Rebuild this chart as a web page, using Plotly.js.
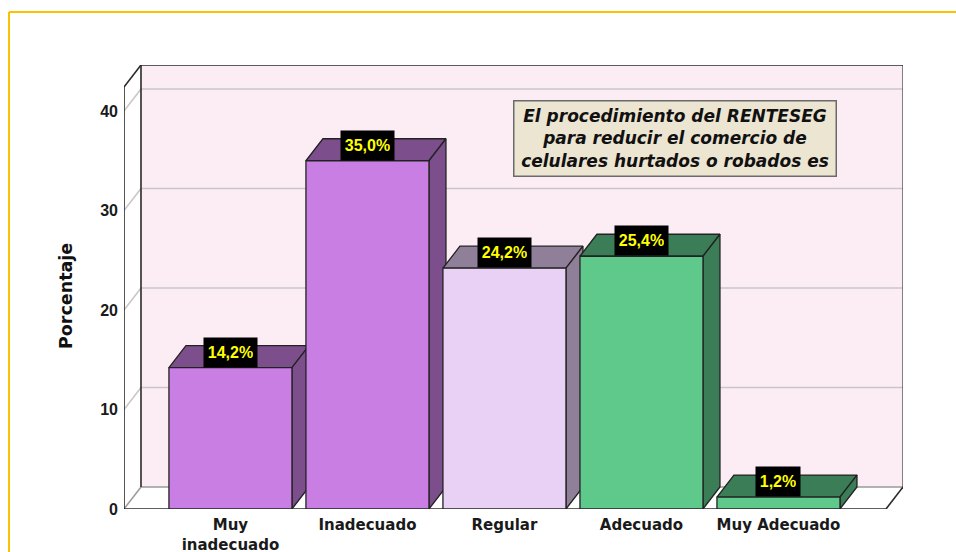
<!DOCTYPE html>
<html><head><meta charset="utf-8">
<script src="https://cdn.plot.ly/plotly-3.0.1.min.js"></script>
<style>html,body{margin:0;padding:0;background:#fff}#chart{width:956px;height:552px}</style>
</head><body><div id="chart"></div>
<script>
// ---- data ----
const categories = ['Muy<br>inadecuado', 'Inadecuado', 'Regular', 'Adecuado', 'Muy Adecuado'];
const percentages = [14.2, 35.0, 24.2, 25.4, 1.2];
const yTicks = [0, 10, 20, 30, 40];
const frontColors = ['#c97ee3', '#c97ee3', '#e9d1f6', '#5ec98b', '#5ec98b'];
const shadeColors = ['#7c4e8c', '#7c4e8c', '#8f7f98', '#3a7d56', '#3a7d56'];
const boxTitle = 'El procedimiento del RENTESEG<br>para reducir el comercio de<br>celulares hurtados o robados es';
const yTitle = 'Porcentaje';

// ---- geometry ----
const W = 956, H = 552;
const M = {l: 124, r: 53, t: 65, b: 43};
const X0 = -0.777, XR = 4.785;      // front floor extent (category units)
const DX = 0.124, DY = 2.21;        // 3D depth offset (axis units)
const YTOPF = 42.41;                // top of front frame
const BW = 0.898;                   // bar width
const xRange = [X0, XR + DX];
const yRange = [0, YTOPF + DY];
const pw = W - M.l - M.r, ph = H - M.t - M.b;
const px2x = p => (p - M.l) / pw;
const py2y = p => (H - M.b - p) / ph;

function poly(xs, ys, fill, lc, lw) {
  return {type: 'scatter', mode: 'lines', x: xs, y: ys, fill: 'toself', fillcolor: fill,
    line: {color: lc || fill, width: lw === undefined ? 0 : lw}, hoverinfo: 'skip', showlegend: false};
}
function segs(list, color, width) {
  const xs = [], ys = [];
  list.forEach(s => { xs.push(s[0], s[2], null); ys.push(s[1], s[3], null); });
  return {type: 'scatter', mode: 'lines', x: xs, y: ys, connectgaps: false,
    line: {color: color, width: width}, hoverinfo: 'skip', showlegend: false};
}

const traces = [];
const yTB = YTOPF + DY;
// walls
traces.push(poly([X0, X0 + DX, X0 + DX, X0, X0], [0, DY, yTB, YTOPF, 0], '#ffffff'));
traces.push(poly([X0, XR, XR + DX, X0 + DX, X0], [0, 0, DY, DY, 0], '#ffffff'));
traces.push(poly([X0 + DX, XR + DX, XR + DX, X0 + DX, X0 + DX], [DY, DY, yTB, yTB, DY], '#fcedf5'));
// gridlines
const grid = [];
yTicks.filter(t => t > 0).forEach(t => {
  grid.push([X0, t, X0 + DX, t + DY]);
  grid.push([X0 + DX, t + DY, XR + DX, t + DY]);
});
traces.push(segs(grid, '#c9c6c8', 1.6));
// frame lines
traces.push(segs([[X0 + DX, DY, XR + DX, DY], [X0, 0, X0 + DX, DY]], '#9a9a9a', 1.5));
traces.push(segs([[XR + DX, DY, XR + DX, yTB]], '#5a5a5a', 1.5));
traces.push(segs([
  [X0, 0, X0, YTOPF], [X0, YTOPF, X0 + DX, yTB], [X0 + DX, yTB, XR + DX, yTB],
  [X0 + DX, DY, X0 + DX, yTB], [X0, 0, XR, 0], [XR, 0, XR + DX, DY]
], '#2a2a2a', 1.6));

// bars
percentages.forEach((v, i) => {
  const xl = i - BW / 2, xr = i + BW / 2;
  traces.push(poly([xl, xl + DX, xr + DX, xr, xl], [v, v + DY, v + DY, v, v], shadeColors[i], '#222222', 1.3));
  traces.push(poly([xr, xr + DX, xr + DX, xr, xr], [0, DY, v + DY, v, 0], shadeColors[i], '#222222', 1.3));
  traces.push(poly([xl, xr, xr, xl, xl], [0, 0, v, v, 0], frontColors[i], '#222222', 1.3));
});

const annotations = percentages.map((v, i) => {
  const txt = v.toFixed(1).replace('.', ',') + '%';
  return {
    x: i, y: v, xref: 'x', yref: 'y', xanchor: 'center', yanchor: 'bottom', showarrow: false,
    text: txt, bgcolor: '#000000', borderpad: 4, width: txt.length > 4 ? 45 : 36, height: 21,
    font: {family: 'Liberation Sans, Arial, sans-serif', size: 16, color: '#ffff00', weight: 'bold'}
  };
});
annotations.push({
  x: px2x(674.5), y: py2y(138), xref: 'paper', yref: 'paper', xanchor: 'center', yanchor: 'middle',
  showarrow: false, text: boxTitle, align: 'center', width: 317, height: 70, borderpad: 2,
  bgcolor: '#ece5d1', bordercolor: '#6a6a6a', borderwidth: 1.5,
  font: {family: 'DejaVu Sans, sans-serif', size: 17, color: '#111111', weight: 'bold', style: 'italic'}
});
annotations.push({
  x: px2x(66), y: py2y(296), xref: 'paper', yref: 'paper', xanchor: 'center', yanchor: 'middle',
  showarrow: false, text: yTitle, textangle: -90,
  font: {family: 'DejaVu Sans, sans-serif', size: 17.5, color: '#111111', weight: 'bold'}
});

const layout = {
  width: W, height: H, margin: M, paper_bgcolor: '#ffffff', plot_bgcolor: 'rgba(0,0,0,0)',
  showlegend: false, hovermode: false,
  xaxis: {range: xRange, tickvals: categories.map((c, i) => i), ticktext: categories,
    showgrid: false, zeroline: false, showline: false, ticks: '', ticklabelstandoff: 5,
    tickfont: {family: 'DejaVu Sans, sans-serif', size: 15, color: '#1a1a1a', weight: 'bold'}},
  yaxis: {range: yRange, tickvals: yTicks, showgrid: false, zeroline: false, showline: false, ticks: '',
    ticklabelstandoff: 5,
    tickfont: {family: 'Liberation Sans, Arial, sans-serif', size: 16, color: '#1a1a1a', weight: 'bold'}},
  annotations: annotations,
  shapes: [
    {type: 'line', xref: 'paper', yref: 'paper', x0: px2x(9), x1: px2x(960), y0: py2y(12), y1: py2y(12), line: {color: '#f8c300', width: 2}},
    {type: 'line', xref: 'paper', yref: 'paper', x0: px2x(9), x1: px2x(9), y0: py2y(12), y1: py2y(560), line: {color: '#f8c300', width: 2}}
  ]
};
Plotly.newPlot('chart', traces, layout, {staticPlot: true, displayModeBar: false});
</script></body></html>
